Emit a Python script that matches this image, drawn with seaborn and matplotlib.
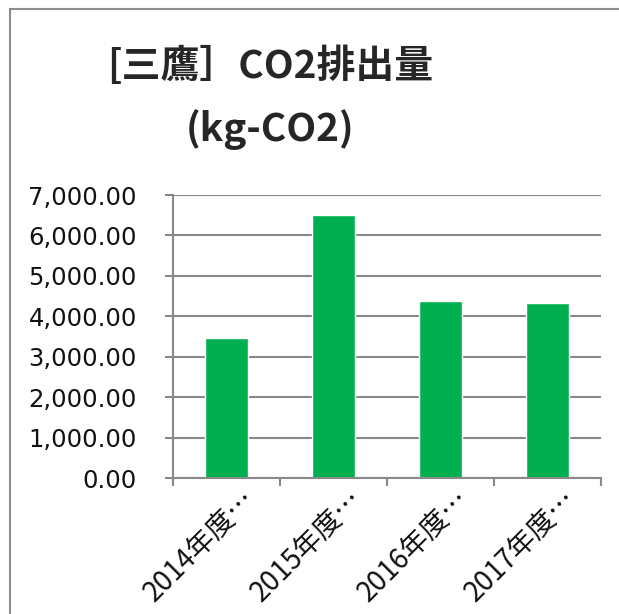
import matplotlib
matplotlib.use("Agg")
import matplotlib.pyplot as plt
import matplotlib.ticker as mticker
import matplotlib.transforms as mtransforms
from matplotlib.patches import Rectangle
import pandas as pd
import seaborn as sns

# data
years = ["2014年度…", "2015年度…", "2016年度…", "2017年度…"]
emissions = [3470, 6500, 4370, 4320]
y_ticks = [0, 1000, 2000, 3000, 4000, 5000, 6000, 7000]

BAR_COLOR = "#00B050"
GRID_COLOR = "#888888"
CJK = ["Noto Sans CJK JP", "DejaVu Sans"]

sns.set_theme(style="white")
plt.rcParams["font.family"] = ["DejaVu Sans", "Noto Sans CJK JP"]

df = pd.DataFrame({"year": years, "co2": emissions})

fig = plt.figure(figsize=(6.19, 6.14), dpi=100)
ax = fig.add_axes([173 / 619, 1 - 478 / 614, 428 / 619, 283 / 614])

sns.barplot(data=df, x="year", y="co2", color=BAR_COLOR, width=0.4,
            saturation=1, ax=ax)

ax.set_ylim(0, 7000)
ax.set_yticks(y_ticks)
ax.yaxis.set_major_formatter(mticker.FuncFormatter(lambda v, p: f"{v:,.2f}"))
ax.grid(axis="y", color=GRID_COLOR, linewidth=1.5)
ax.set_axisbelow(True)
ax.set_xlabel("")
ax.set_ylabel("")

for side in ["top", "right"]:
    ax.spines[side].set_visible(False)
for side in ["left", "bottom"]:
    ax.spines[side].set_color(GRID_COLOR)
    ax.spines[side].set_linewidth(1.5)

# category boundary ticks on x, labels at the centres
ax.set_xlim(-0.5, len(years) - 0.5)
ax.set_xticks([i - 0.5 for i in range(len(years) + 1)])
ax.set_xticklabels([])
ax.set_xticks(range(len(years)), minor=True)
ax.set_xticklabels(years, minor=True, rotation=45, ha="right",
                   rotation_mode="anchor", fontsize=20, color="#111111",
                   family=CJK)
ax.tick_params(axis="x", which="major", length=6, width=1.5,
               color=GRID_COLOR, direction="out", bottom=True)
ax.tick_params(axis="x", which="minor", length=0, pad=4)
ax.tick_params(axis="y", length=6, width=1.5, color=GRID_COLOR,
               direction="out", left=True, pad=20, labelsize=17.5,
               labelcolor="#111111")

shift = mtransforms.ScaledTranslation(14 / 100, 0, fig.dpi_scale_trans)
for lbl in ax.get_xticklabels(minor=True):
    lbl.set_transform(lbl.get_transform() + shift)

fig.text(270 / 619, 1 - 66 / 614, "[三鷹］CO2排出量", ha="center", va="center",
         fontsize=28, fontweight="bold", family=CJK)
fig.text(270 / 619, 1 - 130 / 614, "(kg-CO2)", ha="center", va="center",
         fontsize=28, fontweight="bold", family=CJK)

# chart area border (cut off at right and bottom in the reference)
fig.add_artist(Rectangle((10 / 619, -0.05), 1.2, 1.05 - 9 / 614,
                         transform=fig.transFigure, fill=False,
                         edgecolor="#8c8c8c", linewidth=1.5))

fig.savefig("out.png", dpi=100)
